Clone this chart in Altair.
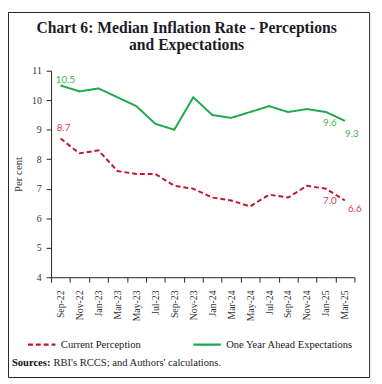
import altair as alt
import pandas as pd

months = ["Sep-22", "Nov-22", "Jan-23", "Mar-23", "May-23", "Jul-23", "Sep-23", "Nov-23",
          "Jan-24", "Mar-24", "May-24", "Jul-24", "Sep-24", "Nov-24", "Jan-25", "Mar-25"]
current_perception = [8.7, 8.2, 8.3, 7.6, 7.5, 7.5, 7.1, 7.0, 6.7, 6.6, 6.4, 6.8, 6.7, 7.1, 7.0, 6.6]
one_year_ahead = [10.5, 10.3, 10.4, 10.1, 9.8, 9.2, 9.0, 10.1, 9.5, 9.4, 9.6, 9.8, 9.6, 9.7, 9.6, 9.3]
series_names = ["Current Perception", "One Year Ahead Expectations"]
line_colors = ["#c4162f", "#1fa84a"]
label_colors = ["#e03a50", "#3cb54a"]
y_ticks = [4, 5, 6, 7, 8, 9, 10, 11]

rows = []
for m, v in zip(months, current_perception):
    rows.append({"month": m, "value": v, "series": series_names[0]})
for m, v in zip(months, one_year_ahead):
    rows.append({"month": m, "value": v, "series": series_names[1]})
df = pd.DataFrame(rows)
one = pd.DataFrame({"k": [0]})

SERIF = "Liberation Serif"
SANS = "Lato"

x_scale = alt.Scale(type="band", paddingInner=0, paddingOuter=0)
y_scale = alt.Scale(domain=[4, 11], nice=False, zero=False)

x_axis = alt.Axis(title=None, labelAngle=-90, tickBand="extent", tickSize=5,
                  labelPadding=8, labelFont=SERIF, labelFontSize=10,
                  labelColor="#333", domainColor="#222", tickColor="#222",
                  labelBaseline="middle", labelAlign="right", labelOverlap=False)
y_axis = alt.Axis(title="Per cent", values=y_ticks, grid=False, tickSize=5,
                  labelPadding=5, labelFont=SERIF, labelFontSize=10,
                  labelColor="#333", titleFont=SERIF, titleFontSize=11,
                  titleFontWeight="normal", titleColor="#333", titlePadding=8,
                  domainColor="#222", tickColor="#222", labelOverlap=False)

x_enc = alt.X("month:N", sort=months, bandPosition=0.5, scale=x_scale, axis=x_axis)
y_enc = alt.Y("value:Q", scale=y_scale, axis=y_axis)

legend = alt.Legend(orient="none", legendX=-25, legendY=264, direction="horizontal",
                    title=None, symbolType="stroke", symbolSize=784, symbolStrokeWidth=2.2,
                    labelFont=SERIF, labelFontSize=10.8, labelColor="#222",
                    labelOffset=4, columnPadding=49, padding=0)

lines = alt.Chart(df).mark_line(strokeWidth=2).encode(
    x=x_enc, y=y_enc,
    color=alt.Color("series:N", scale=alt.Scale(domain=series_names, range=line_colors), legend=legend),
    strokeDash=alt.StrokeDash("series:N", scale=alt.Scale(domain=series_names, range=[[5, 3], [1, 0]]), legend=legend),
)


def label_layer(month, series, color, dx, dy):
    return alt.Chart(df).transform_filter(
        (alt.datum.month == month) & (alt.datum.series == series)
    ).mark_text(font=SANS, fontSize=10, color=color, dx=dx, dy=dy, baseline="middle", align="center").encode(
        x=x_enc,
        y=y_enc,
        text=alt.Text("value:Q", format=".1f"),
    )


labels = [
    label_layer("Sep-22", series_names[1], label_colors[1], 5, -6),
    label_layer("Sep-22", series_names[0], label_colors[0], 3, -11),
    label_layer("Jan-25", series_names[1], label_colors[1], 4, 11),
    label_layer("Mar-25", series_names[1], label_colors[1], 7, 13),
    label_layer("Jan-25", series_names[0], label_colors[0], 4, 13),
    label_layer("Mar-25", series_names[0], label_colors[0], 10, 9),
]

title1 = alt.Chart(one).mark_text(font=SERIF, fontSize=16, fontWeight="bold", color="#1c1c28",
                                  align="center", baseline="alphabetic").encode(
    x=alt.value(138.5), y=alt.value(-39), text=alt.value("Chart 6: Median Inflation Rate - Perceptions"))
title2 = alt.Chart(one).mark_text(font=SERIF, fontSize=16, fontWeight="bold", color="#1c1c28",
                                  align="center", baseline="alphabetic").encode(
    x=alt.value(138.5), y=alt.value(-21), text=alt.value("and Expectations"))

src1 = alt.Chart(one).mark_text(font=SERIF, fontSize=10.8, fontWeight="bold", color="#111",
                                align="left", baseline="alphabetic").encode(
    x=alt.value(-40), y=alt.value(302), text=alt.value("Sources:"))
src2 = alt.Chart(one).mark_text(font=SERIF, fontSize=10.8, color="#222",
                                align="left", baseline="alphabetic").encode(
    x=alt.value(2.5), y=alt.value(302), text=alt.value("RBI's RCCS; and Authors' calculations."))

frame = alt.Chart(one).mark_rect(fillOpacity=0, stroke="#222", strokeWidth=1).encode(
    x=alt.value(-43.5), x2=alt.value(325.5), y=alt.value(-59.5), y2=alt.value(313.5))

chart = alt.layer(lines, *labels, title1, title2, src1, src2, frame).properties(
    width=310, height=211,
    autosize=alt.AutoSizeParams(type="none"),
    padding={"left": 44, "top": 60, "right": 20, "bottom": 104},
    background="white",
).configure_view(stroke=None)

chart.save("out.html", embed_options={"renderer": "svg", "actions": False})
